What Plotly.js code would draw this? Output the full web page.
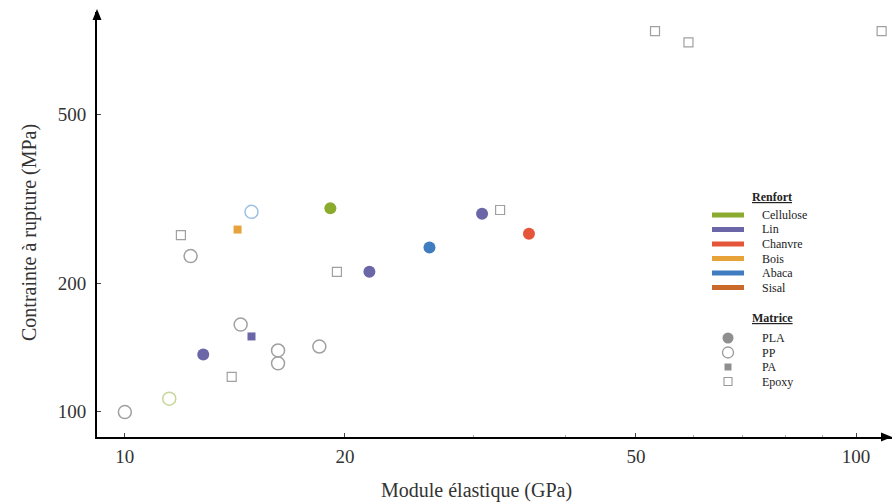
<!DOCTYPE html>
<html>
<head>
<meta charset="utf-8">
<script src="https://cdn.plot.ly/plotly-3.0.1.min.js"></script>
<style>
  html, body { margin: 0; padding: 0; background: #fff; }
  #chart { width: 892px; height: 502px; }
</style>
</head>
<body>
<div id="chart"></div>
<script>
// Fibre-reinforced composites: elastic modulus vs. tensile strength
const modulus  = [19.1, 21.6, 30.8, 35.7, 26.1, 12.8, 14.26, 14.9, 14.9, 11.5, 12.3, 14.4, 16.2, 16.2, 18.45, 10.0, 11.93, 19.5, 32.6, 14.0, 53.1, 59.0, 108.4];
const strength = [301, 213, 292, 262, 243, 136, 268, 150, 295, 107, 232, 160, 139, 129.6, 142, 99.5, 260, 213, 298, 120.5, 787, 740, 787];
const fibre    = ['Cellulose', 'Lin', 'Lin', 'Chanvre', 'Abaca', 'Lin', 'Bois', 'Lin', 'Abaca', 'Cellulose', 'nd', 'nd', 'nd', 'nd', 'nd', 'nd', 'nd', 'nd', 'nd', 'nd', 'nd', 'nd', 'nd'];
const matrix   = ['PLA', 'PLA', 'PLA', 'PLA', 'PLA', 'PLA', 'PA', 'PA', 'PP', 'PP', 'PP', 'PP', 'PP', 'PP', 'PP', 'PP', 'Epoxy', 'Epoxy', 'Epoxy', 'Epoxy', 'Epoxy', 'Epoxy', 'Epoxy'];

const renforts = ['Cellulose', 'Lin', 'Chanvre', 'Bois', 'Abaca', 'Sisal'];
const matrices = ['PLA', 'PP', 'PA', 'Epoxy'];
const xTicks = [10, 20, 50, 100];
const yTicks = [100, 200, 500];
const xTitle = 'Module élastique (GPa)';
const yTitle = 'Contrainte à rupture (MPa)';

// colours per reinforcement (solid markers) and their pale variants (open markers)
const fibreColor = {Cellulose: '#8aab2e', Lin: '#6b66a8', Chanvre: '#e5553a', Bois: '#e8a23a', Abaca: '#3f7cc0', Sisal: '#c96a2b', nd: '#8f8f8f'};
const fibrePale  = {Cellulose: '#c6d69a', Lin: '#aaa6d0', Chanvre: '#f0a898', Bois: '#f1cc90', Abaca: '#9cc0e6', Sisal: '#e2b090', nd: '#a0a0a0'};

// marker look for each matrix
const matrixStyle = {
  PLA:   {symbol: 'circle',      size: 12, lineWidth: 0,   open: false},
  PP:    {symbol: 'circle-open', size: 13, lineWidth: 1.5, open: true},
  PA:    {symbol: 'square',      size: 8,  lineWidth: 0,   open: false},
  Epoxy: {symbol: 'square-open', size: 9,  lineWidth: 1.2, open: true}
};

const traces = matrices.map(m => {
  const idx = matrix.map((v, i) => v === m ? i : -1).filter(i => i >= 0);
  const st = matrixStyle[m];
  return {
    type: 'scatter',
    mode: 'markers',
    name: m,
    x: idx.map(i => modulus[i]),
    y: idx.map(i => strength[i]),
    marker: {
      symbol: st.symbol,
      size: st.size,
      color: idx.map(i => (st.open ? fibrePale : fibreColor)[fibre[i]]),
      line: {width: st.lineWidth}
    },
    showlegend: false,
    hoverinfo: 'x+y+name'
  };
});

// plot-area geometry in pixels (used to place the hand-built legend and titles)
const W = 892, H = 502;
const M = {l: 97, r: 0, t: 12, b: 65};
const PW = W - M.l - M.r, PH = H - M.t - M.b;
const px = x => (x - M.l) / PW;
const py = y => (H - M.b - y) / PH;

const FONT = 'Liberation Serif, Times New Roman, serif';
const shapes = [];
const annotations = [];

// axis arrowheads
shapes.push({type: 'path', xref: 'paper', yref: 'paper', line: {width: 0}, fillcolor: '#000',
  path: `M${px(97)},${py(9)} L${px(92.5)},${py(20)} L${px(101.5)},${py(20)} Z`});
shapes.push({type: 'path', xref: 'paper', yref: 'paper', line: {width: 0}, fillcolor: '#000',
  path: `M${px(892)},${py(437)} L${px(881)},${py(432.5)} L${px(881)},${py(441.5)} Z`});

// axis titles
annotations.push({xref: 'paper', yref: 'paper', x: px(476), y: py(490), xanchor: 'center', yanchor: 'middle',
  text: xTitle, showarrow: false, font: {family: FONT, size: 20, color: '#333'}});
annotations.push({xref: 'paper', yref: 'paper', x: px(29), y: py(233), xanchor: 'center', yanchor: 'middle',
  text: yTitle, textangle: -90, showarrow: false, font: {family: FONT, size: 20, color: '#333'}});

// legend: reinforcement
annotations.push({xref: 'paper', yref: 'paper', x: px(772), y: py(197), xanchor: 'center', yanchor: 'middle',
  text: '<b><u>Renfort</u></b>', showarrow: false, font: {family: FONT, size: 12, color: '#222'}});
renforts.forEach((r, k) => {
  const yc = 215 + k * 14.5;
  shapes.push({type: 'rect', xref: 'paper', yref: 'paper', x0: px(712), x1: px(744), y0: py(yc - 2.5), y1: py(yc + 2.5),
    line: {width: 0}, fillcolor: fibreColor[r]});
  annotations.push({xref: 'paper', yref: 'paper', x: px(760), y: py(yc), xanchor: 'left', yanchor: 'middle',
    text: r, showarrow: false, font: {family: FONT, size: 12, color: '#222'}});
});

// legend: matrix
annotations.push({xref: 'paper', yref: 'paper', x: px(772), y: py(318), xanchor: 'center', yanchor: 'middle',
  text: '<b><u>Matrice</u></b>', showarrow: false, font: {family: FONT, size: 12, color: '#222'}});
const legendGlyph = {
  PLA:   {type: 'circle', r: 5.5, fill: '#8f8f8f', line: 0},
  PP:    {type: 'circle', r: 5.5, fill: 'rgba(0,0,0,0)', line: 1.3},
  PA:    {type: 'rect',   r: 3.5, fill: '#8f8f8f', line: 0},
  Epoxy: {type: 'rect',   r: 4,   fill: 'rgba(0,0,0,0)', line: 1.1}
};
matrices.forEach((m, k) => {
  const yc = 338 + k * 14.5;
  const g = legendGlyph[m];
  shapes.push({type: g.type, xref: 'paper', yref: 'paper', xsizemode: 'pixel', ysizemode: 'pixel',
    xanchor: px(728), yanchor: py(yc), x0: -g.r, x1: g.r, y0: -g.r, y1: g.r,
    fillcolor: g.fill, line: {width: g.line, color: '#9a9a9a'}});
  annotations.push({xref: 'paper', yref: 'paper', x: px(760), y: py(yc), xanchor: 'left', yanchor: 'middle',
    text: m, showarrow: false, font: {family: FONT, size: 12, color: '#222'}});
});

const layout = {
  width: W, height: H,
  margin: M,
  paper_bgcolor: '#fff', plot_bgcolor: '#fff',
  font: {family: FONT, color: '#222'},
  showlegend: false,
  xaxis: {
    type: 'log',
    range: [Math.log10(9.16), Math.log10(112)],
    tickvals: xTicks, ticktext: xTicks.map(String),
    ticks: 'inside', ticklen: 4, tickwidth: 1, tickcolor: '#444',
    minor: {ticks: 'inside', ticklen: 2, tickcolor: '#aaa', dtick: 'D1'},
    ticklabelstandoff: 1,
    showgrid: false, zeroline: false,
    showline: true, linecolor: '#000', linewidth: 2,
    tickfont: {family: FONT, size: 19, color: '#333'}
  },
  yaxis: {
    type: 'log',
    range: [Math.log10(86.9), Math.log10(873)],
    tickvals: yTicks, ticktext: yTicks.map(String),
    ticks: 'inside', ticklen: 4, tickwidth: 1, tickcolor: '#444',
    ticklabelstandoff: 5,
    showgrid: false, zeroline: false,
    showline: true, linecolor: '#000', linewidth: 2,
    tickfont: {family: FONT, size: 19, color: '#333'}
  },
  shapes: shapes,
  annotations: annotations
};

Plotly.newPlot('chart', traces, layout, {displayModeBar: false, staticPlot: true});
</script>
</body>
</html>
